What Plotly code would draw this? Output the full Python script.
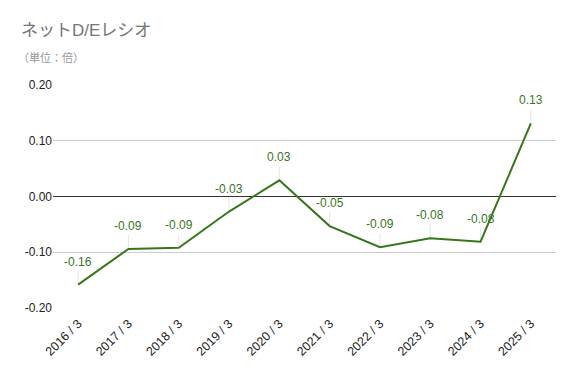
import plotly.graph_objects as go

categories = ["2016 / 3", "2017 / 3", "2018 / 3", "2019 / 3", "2020 / 3",
              "2021 / 3", "2022 / 3", "2023 / 3", "2024 / 3", "2025 / 3"]
values = [-0.158, -0.094, -0.092, -0.027, 0.029, -0.053, -0.091, -0.075, -0.081, 0.131]
labels = ["-0.16", "-0.09", "-0.09", "-0.03", "0.03", "-0.05", "-0.09", "-0.08", "-0.08", "0.13"]
y_ticks = [-0.2, -0.1, 0.0, 0.1, 0.2]
y_ticklabels = ["-0.20", "-0.10", "0.00", "0.10", "0.20"]

GREEN = "#38761d"
FONT = "Liberation Sans, Arial, sans-serif"
JP = "Liberation Sans, Noto Sans CJK JP, sans-serif"

fig = go.Figure()
fig.add_trace(go.Scatter(
    x=categories, y=values, mode="lines",
    line=dict(color=GREEN, width=2),
    error_y=dict(type="data", symmetric=False, array=[0.025] * len(values),
                 arrayminus=[0] * len(values), width=0, thickness=1, color="#e6e6e6"),
    hoverinfo="skip", showlegend=False,
))
for c, v, t in zip(categories, values, labels):
    fig.add_annotation(x=c, y=v, text=t, showarrow=False, yshift=23,
                       font=dict(color=GREEN, size=12, family=FONT))

fig.add_annotation(text="ネットD/Eレシオ", xref="paper", yref="paper", x=0, y=1,
                   xanchor="left", yanchor="middle", showarrow=False,
                   font=dict(size=17, color="#757575", family=JP),
                   xshift=-34, yshift=55)
fig.add_annotation(text="（単位：倍）", xref="paper", yref="paper", x=0, y=1,
                   xanchor="left", yanchor="middle", showarrow=False,
                   font=dict(size=11, color="#999999", family=JP),
                   xshift=-37, yshift=28)

fig.update_layout(
    width=574, height=371,
    margin=dict(l=45, r=26, t=77, b=71),
    plot_bgcolor="white", paper_bgcolor="white",
    font=dict(family=FONT, size=12, color="#222222"),
    xaxis=dict(type="category", range=[-0.5, 9.5], tickangle=-45, showgrid=False,
               showline=False, ticks="", automargin=False, ticklabelstandoff=5,
               tickfont=dict(size=12.5, color="#222222", family=FONT)),
    yaxis=dict(range=[-0.2, 0.2], tickvals=y_ticks, ticktext=y_ticklabels,
               gridcolor="#cccccc", gridwidth=1, zeroline=True, zerolinecolor="#333333",
               zerolinewidth=1, ticks="", automargin=False,
               tickfont=dict(size=12, color="#222222")),
)
fig.write_html("out.html")
